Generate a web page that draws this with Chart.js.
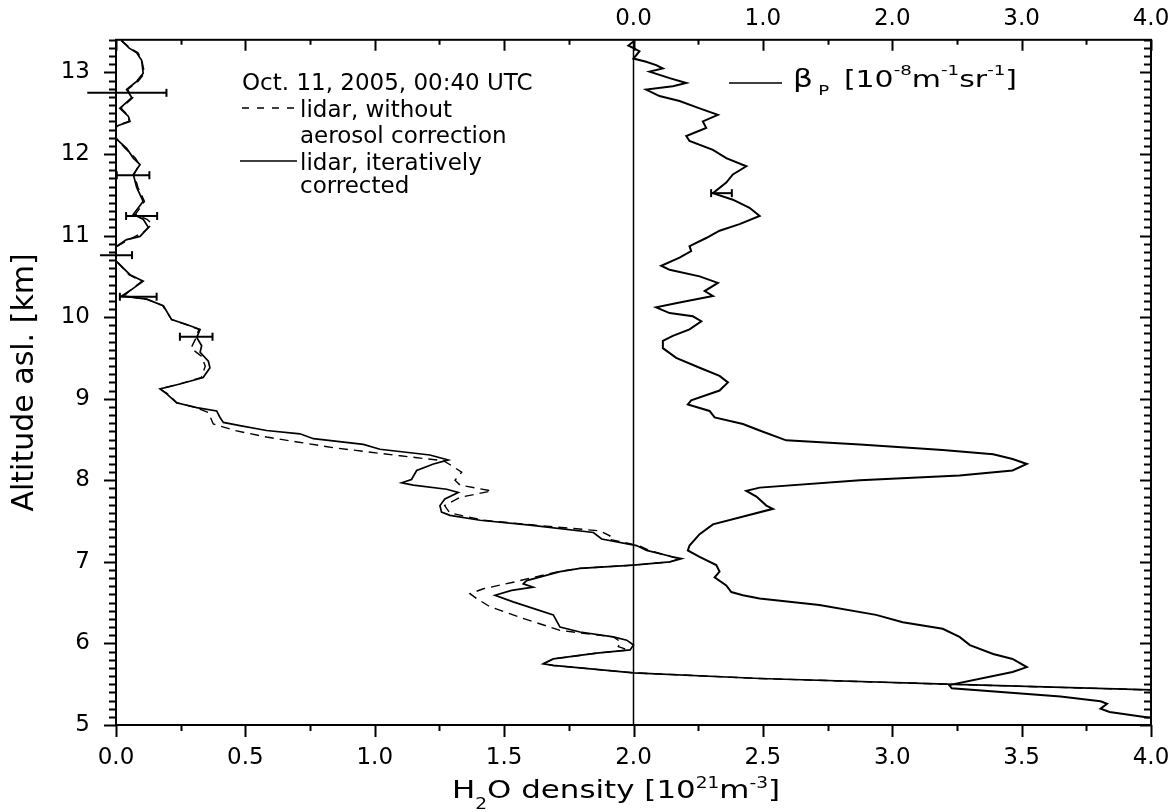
<!DOCTYPE html>
<html>
<head>
<meta charset="utf-8">
<script src="https://cdn.jsdelivr.net/npm/chart.js@4.4.1/dist/chart.umd.min.js"></script>
<style>
body { margin: 0; background: #fff; }
#wrap { width: 1170px; height: 812px; }
</style>
</head>
<body>
<div id="wrap"><canvas id="chart" width="1170" height="812"></canvas></div>
<script>
// lidar, iteratively corrected (altitude km / H2O density 1e21 m-3)
var altCorr = [13.39, 13.30, 13.24, 13.15, 12.99, 12.89, 12.79, 12.69, 12.56, 12.46, 12.40, 12.35, 12.27, 12.20,
    12.07, 11.95, 11.87, 11.75, 11.59, 11.42, 11.26, 11.20, 11.10, 10.99, 10.95, 10.87, 10.80, 10.69, 10.52,
    10.44, 10.34, 10.26, 10.22, 10.14, 9.97, 9.91, 9.85, 9.75, 9.65, 9.57, 9.46, 9.38, 9.26, 9.18, 9.12, 9.06,
    8.95, 8.89, 8.85, 8.77, 8.71, 8.67, 8.61, 8.57, 8.51, 8.44, 8.38, 8.31, 8.25, 8.20, 8.12, 8.01, 7.97, 7.94,
    7.89, 7.85, 7.77, 7.69, 7.61, 7.57, 7.51, 7.45, 7.36, 7.28, 7.20, 7.14, 7.06, 7.04, 7.00, 6.96, 6.92, 6.88,
    6.77, 6.73, 6.69, 6.65, 6.59, 6.51, 6.43, 6.35, 6.20, 6.14, 6.08, 6.04, 5.98, 5.92, 5.88, 5.81, 5.75, 5.73,
    5.64, 5.57, 5.50, 5.43, 5.38];
var h2oCorr = [0.022, 0.050, 0.080, 0.099, 0.105, 0.080, 0.041, 0.061, 0.015, 0.048, 0.054, 0.009, -0.03, -0.004,
    0.041, 0.067, 0.093, 0.067, 0.080, 0.105, 0.067, 0.105, 0.125, 0.093, 0.041, 0.003, -0.02, 0.0, 0.054,
    0.105, 0.061, 0.022, 0.118, 0.183, 0.215, 0.273, 0.325, 0.312, 0.331, 0.325, 0.357, 0.363, 0.337, 0.247, 0.170, 0.196,
    0.234, 0.312, 0.389, 0.402, 0.415, 0.479, 0.582, 0.711, 0.763, 0.956, 1.02, 1.213, 1.284, 1.227, 1.162, 1.142, 1.104, 1.149,
    1.278, 1.323, 1.271, 1.252, 1.258, 1.291, 1.407, 1.60, 1.845, 1.877, 2.012, 2.051, 2.154, 2.186, 2.141, 2.00, 1.793, 1.716,
    1.587, 1.574, 1.612, 1.529, 1.465, 1.535, 1.612, 1.690, 1.716, 1.793, 1.922, 1.974, 2.00, 1.987, 1.857, 1.690, 1.651, 1.690,
    2.00, 2.489, 3.21, 4.0, 4.5];

// lidar, without aerosol correction
var altRaw = [13.39, 13.30, 13.24, 13.15, 12.99, 12.89, 12.79, 12.69, 12.56, 12.46, 12.40, 12.35, 12.27, 12.20,
    12.07, 11.95, 11.87, 11.75, 11.59, 11.42, 11.26, 11.20, 11.14, 11.05, 10.95, 10.87, 10.80, 10.69, 10.52,
    10.44, 10.34, 10.26, 10.22, 10.14, 9.97, 9.91, 9.85, 9.75, 9.62, 9.52, 9.40, 9.26, 9.18, 9.12, 9.06,
    8.95, 8.89, 8.83, 8.69, 8.61, 8.53, 8.47, 8.40, 8.30, 8.24, 8.18, 8.10, 8.00, 7.94, 7.87, 7.79,
    7.69, 7.60, 7.51, 7.45, 7.38, 7.32, 7.28, 7.20, 7.14, 7.06, 7.04, 7.00, 6.96, 6.92, 6.88, 6.80, 6.75,
    6.67, 6.61, 6.55, 6.45, 6.32, 6.16, 6.08, 6.02, 5.96, 5.92, 5.88, 5.81, 5.75, 5.73, 5.64, 5.57, 5.50, 5.43, 5.38];
var h2oRaw = [0.02, 0.055, 0.085, 0.10, 0.11, 0.085, 0.045, 0.065, 0.02, 0.05, 0.05, 0.005, -0.03, 0.0,
    0.035, 0.075, 0.09, 0.07, 0.085, 0.11, 0.075, 0.12, 0.14, 0.11, 0.05, 0.005, -0.02, 0.0, 0.05,
    0.10, 0.06, 0.03, 0.12, 0.18, 0.215, 0.27, 0.32, 0.31, 0.29, 0.33, 0.345, 0.33, 0.245, 0.17, 0.20,
    0.235, 0.31, 0.357, 0.376, 0.46, 0.582, 0.70, 0.84, 1.098, 1.265, 1.297, 1.336, 1.310, 1.33, 1.452, 1.329,
    1.27, 1.29, 1.42, 1.62, 1.87, 1.909, 1.90, 2.02, 2.06, 2.15, 2.18, 2.14, 2.00, 1.79, 1.71, 1.60, 1.535,
    1.42, 1.368, 1.394, 1.445, 1.561, 1.716, 1.922, 1.95, 1.941, 1.98, 1.857, 1.690, 1.651, 1.690, 2.00, 2.489, 3.21, 4.0, 4.5];

// particle backscatter coefficient (1e-8 m-1 sr-1), top axis
var altBeta = [13.38, 13.33, 13.26, 13.17, 13.13, 13.09, 13.05, 13.01, 12.93, 12.87, 12.83, 12.79, 12.71, 12.65,
    12.56, 12.48, 12.40, 12.32, 12.22, 12.16, 12.05, 11.95, 11.85, 11.75, 11.65, 11.52, 11.44, 11.34, 11.24,
    11.14, 11.06, 10.97, 10.87, 10.81, 10.73, 10.63, 10.58, 10.50, 10.42, 10.32, 10.26, 10.18, 10.12, 10.05,
    10.01, 9.95, 9.85, 9.77, 9.71, 9.62, 9.50, 9.38, 9.28, 9.20, 9.10, 8.98, 8.93, 8.85, 8.77, 8.69, 8.61,
    8.49, 8.44, 8.37, 8.32, 8.26, 8.20, 8.12, 8.06, 8.00, 7.91, 7.87, 7.80, 7.69, 7.65, 7.46, 7.34, 7.20,
    7.14, 7.06, 6.96, 6.88, 6.81, 6.71, 6.63, 6.59, 6.55, 6.47, 6.35, 6.26, 6.18, 6.08, 5.98, 5.87, 5.81,
    5.71, 5.65, 5.49, 5.45, 5.35, 5.29, 5.26, 5.20, 5.16, 5.09];
var betaP = [0.00, -0.04, 0.046, 0.0, 0.098, 0.175, 0.227, 0.124, 0.279, 0.408, 0.304, 0.098, 0.201, 0.356,
    0.511, 0.652, 0.536, 0.562, 0.408, 0.433, 0.614, 0.717, 0.872, 0.768, 0.717, 0.614, 0.768, 0.897, 0.975,
    0.82, 0.665, 0.562, 0.433, 0.446, 0.356, 0.214, 0.279, 0.511, 0.652, 0.55, 0.614, 0.356, 0.175, 0.279,
    0.459, 0.524, 0.433, 0.304, 0.227, 0.227, 0.33, 0.511, 0.665, 0.73, 0.665, 0.446, 0.42, 0.588, 0.627, 0.846, 0.975,
    1.18, 1.75, 2.39, 2.78, 2.93, 3.04, 2.93, 2.52, 1.75, 0.975, 0.872, 0.95, 1.027, 1.078, 0.614, 0.511, 0.433,
    0.42, 0.511, 0.64, 0.665, 0.627, 0.717, 0.756, 0.846, 0.974, 1.437, 1.875, 2.081, 2.39, 2.52, 2.60, 2.78, 2.93,
    3.04, 2.93, 2.44, 2.46, 3.30, 3.61, 3.66, 3.61, 3.68, 3.99];

// error bars on the H2O profile
var errAlt = [12.75, 11.74, 11.24, 10.76, 10.25, 9.76];
var errH2o = [0.042, 0.066, 0.099, 0.0, 0.086, 0.31];
var errHalf = [0.153, 0.063, 0.06, 0.062, 0.071, 0.063];
// error bar on beta
var betaErrAlt = [11.52];
var betaErrVal = [0.68];
var betaErrHalf = [0.08];

var h2oTicks = [0, 0.5, 1, 1.5, 2, 2.5, 3, 3.5, 4];
var betaTicks = [0, 1, 2, 3, 4];
var altTicks = [5, 6, 7, 8, 9, 10, 11, 12, 13];
var altMin = 5, altMax = 13.4;
var refH2o = 2.0;

var FONT = '"DejaVu Sans", Verdana, sans-serif';

function pts(xs, ys) {
    return xs.map(function (x, i) { return {x: x, y: ys[i]}; });
}

function errSets(alts, vals, half, axis) {
    return alts.map(function (a, i) {
        return {
            data: [{x: vals[i] - half[i], y: a}, {x: vals[i] + half[i], y: a}],
            xAxisID: axis,
            showLine: true,
            borderColor: '#000',
            borderWidth: 2,
            pointStyle: 'line',
            rotation: 90,
            pointRadius: 4,
            pointBorderWidth: 2,
            pointBorderColor: '#000',
            clip: false
        };
    });
}

function drawRich(ctx, pieces, x, y, width) {
    var natural = 0;
    pieces.forEach(function (p) {
        ctx.font = p[1] + 'px ' + FONT;
        natural += ctx.measureText(p[0]).width + (p[3] || 0);
    });
    ctx.save();
    ctx.translate(x, y);
    ctx.scale(width / natural, 1);
    var cx = 0;
    pieces.forEach(function (p) {
        ctx.font = p[1] + 'px ' + FONT;
        cx += p[3] || 0;
        ctx.fillText(p[0], cx, p[2]);
        cx += ctx.measureText(p[0]).width;
    });
    ctx.restore();
}

var frame = {
    id: 'frame',
    afterDraw: function (chart) {
        var ctx = chart.ctx, a = chart.chartArea;
        var sx = chart.scales.x, sx2 = chart.scales.x2, sy = chart.scales.y;
        ctx.save();
        ctx.strokeStyle = '#000';
        ctx.fillStyle = '#000';
        ctx.lineWidth = 2;
        ctx.strokeRect(a.left, a.top, a.right - a.left, a.bottom - a.top);
        ctx.beginPath();
        // altitude ticks, every 0.1 km
        for (var k = 50; k <= 134; k++) {
            var py = Math.round(sy.getPixelForValue(k / 10)) + 0.5;
            var major = k % 10 === 0;
            ctx.moveTo(a.left - (major ? 12 : 7), py); ctx.lineTo(a.left, py);
            ctx.moveTo(a.right, py); ctx.lineTo(a.right - (major ? 11 : 7), py);
        }
        // bottom ticks, every 0.25
        for (var j = 0; j <= 16; j++) {
            var px = Math.round(sx.getPixelForValue(j / 4)) + 0.5;
            ctx.moveTo(px, a.bottom); ctx.lineTo(px, a.bottom + (j % 2 === 0 ? 12 : 6));
        }
        // top ticks, every 0.5
        for (var m = -8; m <= 8; m++) {
            var tx = Math.round(sx2.getPixelForValue(m / 2)) + 0.5;
            ctx.moveTo(tx, a.top); ctx.lineTo(tx, a.top + (m % 2 === 0 ? 11 : 5));
        }
        ctx.stroke();

        // legend
        ctx.font = '23px ' + FONT;
        ctx.textBaseline = 'alphabetic';
        ctx.textAlign = 'left';
        var lx = a.left + 126;
        ctx.fillText('Oct. 11, 2005, 00:40 UTC', lx, 90);
        ctx.fillText('lidar, without', lx + 58, 117);
        ctx.fillText('aerosol correction', lx + 58, 143);
        ctx.fillText('lidar, iteratively', lx + 58, 170);
        ctx.fillText('corrected', lx + 58, 193);
        ctx.lineWidth = 1.6;
        ctx.beginPath();
        ctx.setLineDash([7, 8]);
        ctx.moveTo(lx, 108); ctx.lineTo(lx + 53, 108);
        ctx.stroke();
        ctx.setLineDash([]);
        ctx.beginPath();
        ctx.moveTo(lx - 2, 161); ctx.lineTo(lx + 55, 161);
        ctx.moveTo(729, 83); ctx.lineTo(782, 83);
        ctx.stroke();

        drawRich(ctx, [['β', 24, 0], ['P', 14, 8, 4], [' [10', 23, 0, 4], ['-8', 14, -12], ['m', 23, 0],
            ['-1', 14, -12], ['sr', 23, 0], ['-1', 14, -12], [']', 23, 0]], 793, 87, 224);

        // bottom axis title
        drawRich(ctx, [['H', 25, 0], ['2', 15, 11], ['O density [10', 25, 0], ['21', 15, -10], ['m', 25, 0],
            ['-3', 15, -10], [']', 25, 0]], 452, 798, 328);
        ctx.restore();
    }
};

var tickFont = {family: FONT, size: 23};

function noSidePadding(s) {
    s.paddingLeft = 0;
    s.paddingRight = 0;
}

var datasets = [].concat(
    errSets(errAlt, errH2o, errHalf, 'x'),
    errSets(betaErrAlt, betaErrVal, betaErrHalf, 'x2'),
    [
        {data: pts(h2oRaw, altRaw), xAxisID: 'x', showLine: true, borderColor: '#000', borderWidth: 1.4,
            borderDash: [9, 6], pointRadius: 0},
        {data: pts(h2oCorr, altCorr), xAxisID: 'x', showLine: true, borderColor: '#000', borderWidth: 1.7,
            pointRadius: 0},
        {data: pts(betaP, altBeta), xAxisID: 'x2', showLine: true, borderColor: '#000', borderWidth: 2,
            pointRadius: 0},
        {data: pts([refH2o, refH2o], [altMin, altMax]), xAxisID: 'x', showLine: true, borderColor: '#000',
            borderWidth: 1.5, pointRadius: 0}
    ]
);

var ctx = document.getElementById('chart').getContext('2d');
var chart = new Chart(ctx, {
    type: 'scatter',
    data: {datasets: datasets},
    plugins: [frame],
    options: {
        responsive: false,
        animation: false,
        devicePixelRatio: 1,
        layout: {padding: {left: 0, right: 19, top: 0, bottom: 0}},
        plugins: {legend: {display: false}, tooltip: {enabled: false}},
        scales: {
            x: {
                type: 'linear', position: 'bottom', min: 0, max: 4,
                afterBuildTicks: function (s) { s.ticks = h2oTicks.map(function (v) { return {value: v}; }); },
                afterFit: function (s) { s.height = 87; noSidePadding(s); },
                grid: {display: false, drawTicks: false},
                border: {display: false},
                ticks: {font: tickFont, color: '#000', padding: 19, autoSkip: false, maxRotation: 0,
                    callback: function (v) { return v.toFixed(1); }}
            },
            x2: {
                type: 'linear', position: 'top', min: -4, max: 4,
                afterBuildTicks: function (s) { s.ticks = betaTicks.map(function (v) { return {value: v}; }); },
                afterFit: function (s) { s.height = 39; noSidePadding(s); },
                grid: {display: false, drawTicks: false},
                border: {display: false},
                ticks: {font: tickFont, color: '#000', padding: 7, autoSkip: false, maxRotation: 0,
                    callback: function (v) { return v.toFixed(1); }}
            },
            y: {
                type: 'linear', position: 'left', min: altMin, max: altMax,
                afterBuildTicks: function (s) { s.ticks = altTicks.map(function (v) { return {value: v}; }); },
                afterFit: function (s) { s.width = 116; },
                grid: {display: false, drawTicks: false},
                border: {display: false},
                ticks: {font: tickFont, color: '#000', padding: 26, autoSkip: false},
                title: {display: true, text: 'Altitude asl. [km]', color: '#000',
                    font: {family: FONT, size: 30}, padding: {top: 7, bottom: 0}}
            }
        }
    }
});
</script>
</body>
</html>
